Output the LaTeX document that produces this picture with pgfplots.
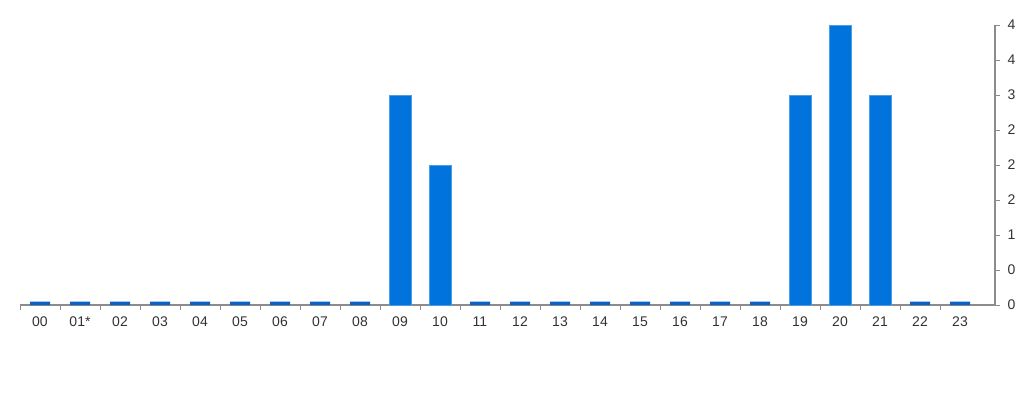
\documentclass[border=0pt]{standalone}
\usepackage{pgfplots}
\pgfplotsset{compat=1.18}
\usepackage{fontspec}
\setmainfont{Liberation Sans}
\definecolor{barblue}{HTML}{0073DC}
\definecolor{stubblue}{HTML}{0A62C2}
\definecolor{axisgray}{HTML}{8C8C8C}
\definecolor{txt}{HTML}{333333}
\begin{document}
\begin{tikzpicture}[x=1pt,y=1pt]
\path[use as bounding box] (0,0) rectangle (1024,400);
\begin{axis}[
    at={(20pt,95pt)}, anchor=south west,
    scale only axis, width=975pt, height=280pt,
    xmin=-0.5, xmax=23.875, ymin=0, ymax=4,
    axis x line*=bottom, axis y line*=right,
    axis line style={axisgray, line width=1.2pt},
    ybar, bar width=22pt,
    % boundary ticks between hours
    xtick={-0.5,0.5,...,22.5},
    xticklabels={},
    xtick align=outside,
    % hour labels
    extra x ticks={0,...,23},
    extra x tick labels={00,01*,02,03,04,05,06,07,08,09,10,11,12,13,14,15,16,17,18,19,20,21,22,23},
    extra x tick style={major tick length=0pt, xticklabel style={yshift=-8pt}},
    major tick length=5pt,
    ytick={0,0.5,...,4},
    yticklabels={0,0,1,2,2,2,3,4,4},
    ytick align=outside,
    major tick style={draw=axisgray, line width=1pt},
    tick label style={font=\fontsize{14}{16}\selectfont, text=txt},
    yticklabel style={xshift=4pt},
]
% actual counts
\addplot[fill=barblue, draw=barblue!70!white, line width=0.5pt, bar shift=0pt]
    coordinates {(9,3)(10,2)(19,3)(20,4)(21,3)};
% zero hours drawn as thin stubs
\addplot[fill=stubblue, draw=none, bar width=20pt, bar shift=0pt]
    coordinates {(0,0.05)(1,0.05)(2,0.05)(3,0.05)(4,0.05)(5,0.05)(6,0.05)(7,0.05)(8,0.05)
    (11,0.05)(12,0.05)(13,0.05)(14,0.05)(15,0.05)(16,0.05)(17,0.05)(18,0.05)(22,0.05)(23,0.05)};
\end{axis}
\end{tikzpicture}
\end{document}
